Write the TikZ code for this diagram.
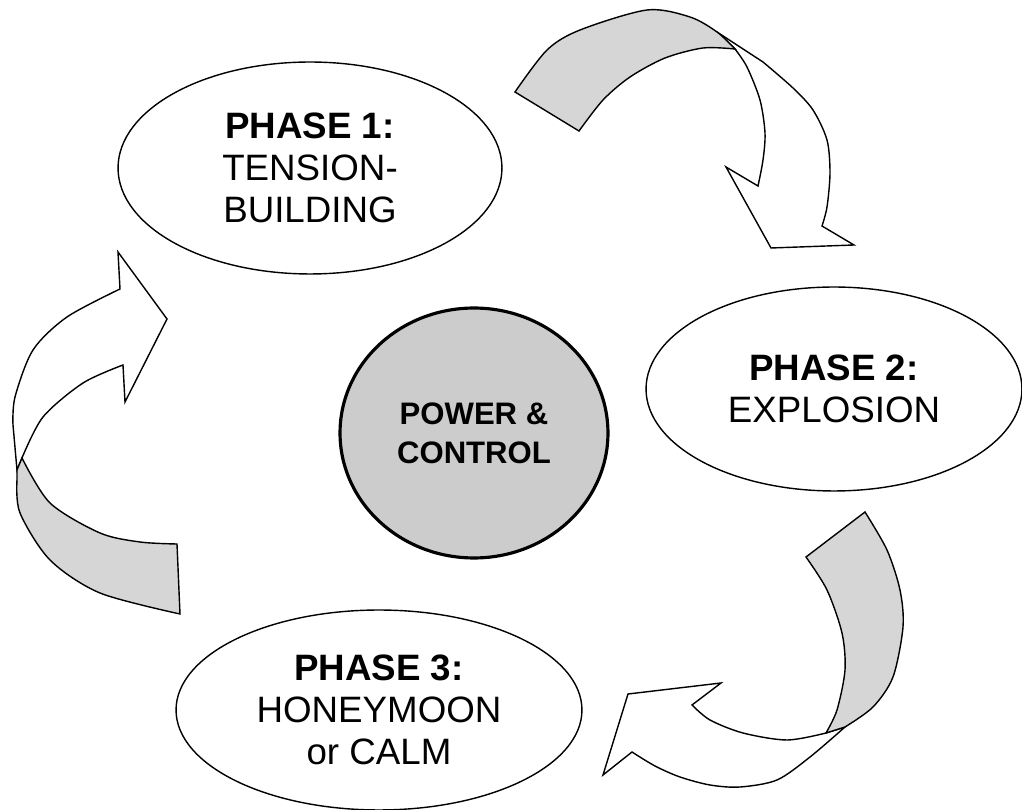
\documentclass[tikz,border=0pt]{standalone}
\usepackage{fontspec}
\setmainfont{Liberation Sans}
\usetikzlibrary{shapes.geometric}
\definecolor{arrowgray}{HTML}{D6D6D6}
\definecolor{centergray}{HTML}{CCCCCC}
\tikzset{
  phase/.style={shape=ellipse, draw=black, line width=0.8pt, fill=white, inner sep=0pt, align=center,
    font=\fontsize{20.9pt}{23.9pt}\selectfont},
  hub/.style={shape=ellipse, draw=black, line width=1.8pt, fill=centergray, inner sep=0pt, align=center,
    font=\fontsize{17.7pt}{22.1pt}\selectfont\bfseries},
  band/.style={draw=black, line width=0.8pt, fill=arrowgray, line join=miter},
  shaft/.style={draw=black, line width=0.8pt, fill=white, line join=miter},
}
\begin{document}
\begin{tikzpicture}[x=0.02cm, y=-0.02cm]
\useasboundingbox (0,0) rectangle (1022,810);

% ---------- top arrow (Phase 1 -> Phase 2) ----------
\path[shaft] (717,32) -- (763,62)
  -- plot[smooth] coordinates {(763,62) (793,88) (813,110) (827,140) (830,173) (827,207) (822,226)}
  -- (854,245) -- (771,248) -- (726,167) -- (758,186)
  -- plot[smooth] coordinates {(758,186) (763,160) (765,133) (760,100) (747,67) (735,49)}
  -- (717,32) -- cycle;
\path[band] (515,92)
  -- plot[smooth] coordinates {(515,92) (547,50) (580,30) (647,10) (690,17) (717,32) (735,49)}
  -- plot[smooth] coordinates {(735,49) (703,48) (665,58) (630,77) (603,100) (579,131)}
  -- cycle;

% ---------- right arrow (Phase 2 -> Phase 3) ----------
\path[shaft] (845,727)
  -- plot[smooth] coordinates {(845,727) (810,757) (777,780) (740,787) (710,785) (680,777) (655,766) (632,752)}
  -- (603,775) -- (628,694) -- (721,683) -- (692,705)
  -- plot[smooth] coordinates {(692,705) (710,720) (743,733) (787,740) (826,733)}
  -- cycle;
\path[band] (806,557) -- (865,512)
  -- plot[smooth] coordinates {(865,512) (887,550) (900,590) (903,627) (893,677) (873,707) (845,727)}
  -- (826,733)
  -- plot[smooth] coordinates {(826,733) (837,710) (845,670) (842,633) (827,590) (806,557)}
  -- cycle;

% ---------- left arrow (Phase 3 -> Phase 1) ----------
\path[shaft] (120,289) -- (118,252) -- (167,319) -- (125,402) -- (123,365)
  -- plot[smooth] coordinates {(123,365) (83,383) (43,417) (22,458)}
  -- (17,470) -- (13,425)
  -- plot[smooth] coordinates {(13,425) (15,397) (33,350) (67,317) (120,289)}
  -- cycle;
\path[band] (22,458)
  -- plot[smooth] coordinates {(22,458) (50,503) (100,533) (140,542) (177,544)}
  -- (180,614)
  -- plot[smooth] coordinates {(180,614) (100,593) (50,560) (20,513) (17,480)}
  -- (17,470) -- cycle;

% ---------- nodes ----------
\node[phase, minimum width=7.68cm, minimum height=4.24cm] (p1) at (310,168)
  {\textbf{PHASE 1:}\\TENSION-\\BUILDING};
\node[phase, minimum width=7.52cm, minimum height=4.08cm] (p2) at (834,389)
  {\textbf{PHASE 2:}\\EXPLOSION};
\node[phase, minimum width=8.12cm, minimum height=4.0cm] (p3) at (379,710)
  {\textbf{PHASE 3:}\\HONEYMOON\\or CALM};
\node[hub, minimum width=5.36cm, minimum height=5.0cm] (pc) at (474,433)
  {POWER \&\\CONTROL};
\end{tikzpicture}
\end{document}
